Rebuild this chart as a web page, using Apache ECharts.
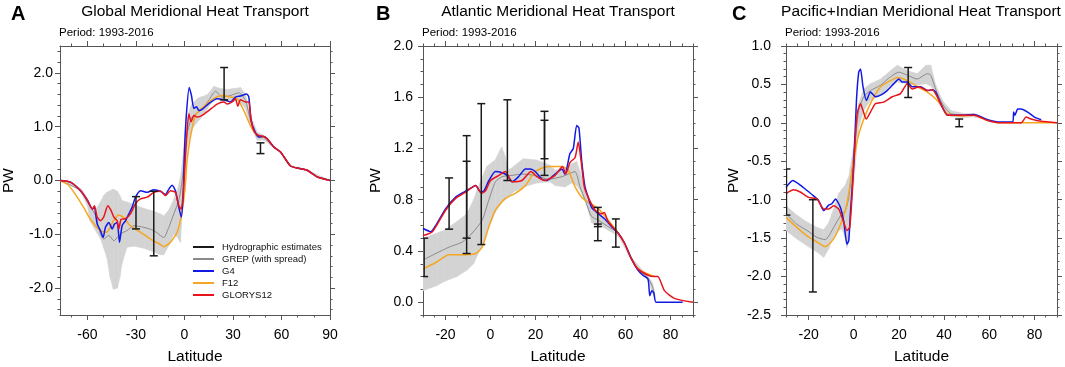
<!DOCTYPE html>
<html>
<head>
<meta charset="utf-8">
<script src="https://cdn.jsdelivr.net/npm/echarts@6/dist/echarts.min.js"></script>
<style>
  html, body { margin: 0; padding: 0; background: #fff; }
  #chart-container { width: 1065px; height: 367px; }
</style>
</head>
<body>
<div id="chart-container"></div>
<script>
// ---- Panel A: global ----
const globalG4 = [[-77,0],[-70.5,-0.03],[-64.3,-0.19],[-60,-0.37],[-57,-0.53],[-55.7,-0.50],[-54,-0.81],[-52,-0.93],[-50.3,-1.06],[-48.9,-0.87],[-46.8,-0.78],[-44.7,-0.90],[-43.3,-0.81],[-41.6,-0.78],[-40.2,-1.15],[-38.6,-0.84],[-36.5,-0.75],[-34.4,-0.62],[-32.4,-0.50],[-30.3,-0.31],[-27.2,-0.19],[-23,-0.22],[-19,-0.17],[-14.8,-0.20],[-11.8,-0.26],[-9.7,-0.16],[-7.6,-0.09],[-5.6,-0.19],[-3.5,-0.50],[-2,-0.68],[-0.8,-0.25],[0,0.56],[1.2,1.24],[2.9,1.73],[4.3,1.58],[5.8,1.34],[7.4,1.37],[8.9,1.30],[10.9,1.32],[15,1.43],[20.2,1.52],[24.3,1.50],[28.5,1.46],[31.5,1.55],[34.6,1.57],[38.4,1.61],[39.8,1.55],[41.2,1.12],[43.3,0.93],[46,0.81],[49,0.82],[51,0.78],[55.3,0.62],[59.4,0.53],[65.6,0.27],[71.8,0.22],[75.9,0.19],[82,0.07],[90,0]];
const globalGLORYS12 = [[-77,0],[-70.5,-0.03],[-64.3,-0.19],[-60,-0.37],[-57,-0.53],[-55.7,-0.47],[-54,-0.68],[-52,-0.75],[-50,-0.68],[-47.4,-0.47],[-45.4,-0.56],[-43.7,-0.68],[-41.6,-0.75],[-40.6,-0.90],[-39.2,-0.72],[-36.5,-0.71],[-33.4,-0.62],[-30.3,-0.43],[-27.2,-0.34],[-23,-0.31],[-19,-0.22],[-14.8,-0.20],[-11.8,-0.28],[-8.7,-0.19],[-5.6,-0.22],[-3.5,-0.47],[-2,-0.53],[-0.8,-0.25],[0,0.12],[1.2,0.75],[2.7,1.24],[4.1,1.09],[5.8,1.21],[7.8,1.18],[10.9,1.21],[15,1.30],[20.2,1.42],[24.3,1.46],[26.4,1.42],[29.5,1.46],[31.5,1.52],[33,1.38],[34.6,1.50],[37.7,1.46],[39.8,1.46],[41.2,1.12],[43.3,0.90],[46,0.84],[49,0.82],[51,0.78],[55.3,0.62],[59.4,0.53],[65.6,0.27],[71.8,0.22],[75.9,0.19],[82,0.07],[90,0]];
const globalF12 = [[-77,0],[-72,-0.08],[-67,-0.28],[-62,-0.52],[-58.4,-0.71],[-52.2,-0.93],[-48,-0.96],[-44,-0.75],[-40.8,-0.64],[-37.9,-0.68],[-33.5,-0.84],[-27.3,-0.96],[-21,-1.09],[-14.9,-1.19],[-12.8,-1.23],[-8.7,-1.15],[-4.5,-0.96],[-1.4,-0.56],[0.6,-0.06],[1.6,0.37],[3.7,0.81],[6.8,1.21],[12,1.38],[18.1,1.52],[23.3,1.58],[28.5,1.55],[32.6,1.52],[36.7,1.30],[40.8,1.02],[45,0.84],[51,0.78],[55.3,0.62],[59.4,0.53],[65.6,0.27],[71.8,0.22],[75.9,0.19],[82,0.07],[90,0]];
const globalGREP = [[-77,0],[-64,-0.19],[-60,-0.40],[-55,-0.65],[-52,-0.99],[-50,-1.09],[-46.8,-1.02],[-43.7,-1.12],[-39.6,-0.99],[-35.5,-0.93],[-31.3,-0.84],[-25.2,-0.87],[-19,-0.93],[-12.8,-1.06],[-9.7,-0.87],[-6.6,-0.62],[-3.5,-0.37],[-1.4,0],[0,0.43],[1.6,0.87],[4.7,1.18],[9.9,1.30],[15,1.49],[19.2,1.66],[23.3,1.55],[28.5,1.58],[33.6,1.63],[37.7,1.49],[40.8,1.12],[45,0.81],[49,0.80],[55.3,0.62],[59.4,0.53],[65.6,0.27],[71.8,0.22],[75.9,0.19],[82,0.07],[90,0]];
// [lat, low, high]
const globalSpread = [[-77,0,0],[-70,-0.08,-0.05],[-64,-0.22,-0.15],[-60,-0.48,-0.33],[-58.4,-0.75,-0.45],[-56,-0.88,-0.56],[-54,-0.98,-0.50],[-52,-1.08,-0.40],[-50,-1.25,-0.28],[-48,-1.43,-0.22],[-46,-1.80,-0.19],[-44,-2.02,-0.16],[-41.5,-2.0,-0.2],[-40,-1.80,-0.28],[-38.7,-1.55,-0.37],[-35.6,-1.24,-0.40],[-31,-1.22,-0.45],[-25,-1.26,-0.52],[-19,-1.33,-0.57],[-15,-1.38,-0.62],[-12.8,-1.38,-0.66],[-9.7,-1.21,-0.55],[-6.6,-1.0,-0.35],[-4.5,-1.05,-0.19],[-2.5,-1.15,0.06],[-1.4,-0.62,0.30],[-0.8,-0.30,0.45],[0,0.12,0.75],[0.6,0.30,0.93],[1.6,0.62,1.15],[3.7,0.85,1.37],[4.7,0.96,1.42],[7.8,1.08,1.52],[9.9,1.15,1.55],[13,1.28,1.58],[15,1.37,1.62],[18.1,1.50,1.75],[19.2,1.55,1.74],[22.3,1.48,1.71],[26.4,1.46,1.69],[30.5,1.47,1.71],[33.6,1.49,1.72],[34.6,1.45,1.73],[37.7,1.34,1.61],[40.8,1.02,1.21],[45,0.75,0.90],[49,0.75,0.84],[53,0.67,0.72],[55.3,0.61,0.63],[60,0.50,0.51],[65.6,0.26,0.28],[75.9,0.18,0.20],[90,0,0]];
const globalHydro = [[-30,-0.9,-0.3],[-19,-1.4,-0.2],[24.5,1.5,2.1],[47,0.5,0.7]];

// ---- Panel B: Atlantic ----
const atlanticG4 = [[-30,0.575],[-26.5,0.55],[-24.3,0.60],[-19.9,0.73],[-15.5,0.82],[-11.8,0.86],[-8.8,0.89],[-6.6,0.91],[-4.4,0.86],[-2.9,0.87],[-0.7,0.95],[2.2,1.02],[5.2,1.01],[7.4,0.99],[9.6,0.94],[12.5,0.98],[15.5,1.04],[17.7,1.04],[19.9,1.02],[22.8,0.96],[25,0.95],[28.7,1.00],[31.7,1.04],[33.1,1.00],[35.3,1.16],[36.8,1.20],[38.3,1.38],[39.3,1.36],[40.5,1.11],[42,0.90],[43.4,0.82],[44.9,0.74],[47.9,0.69],[50.8,0.65],[53.8,0.59],[56.7,0.54],[59.6,0.46],[62.6,0.34],[65.5,0.25],[67.7,0.21],[70,0.18],[70.8,0.05],[71.7,0.09],[72.6,0.07],[73.6,0],[85.4,0]];
const atlanticGLORYS12 = [[-30,0.52],[-25.8,0.55],[-19.9,0.72],[-15.5,0.81],[-11,0.86],[-6.6,0.91],[-4,0.85],[-2.2,0.87],[0,0.95],[3.7,0.99],[6.6,1.02],[9.6,0.94],[14,0.95],[18,1.02],[20.6,0.98],[24.3,0.95],[28.7,0.99],[32,1.06],[33.4,1.00],[35.3,1.09],[37.6,1.13],[39,1.25],[40.2,1.11],[41.7,0.90],[43.4,0.82],[46.4,0.72],[49.3,0.69],[50.5,0.70],[52.3,0.63],[56.7,0.54],[59.6,0.46],[62.6,0.34],[65.5,0.26],[70,0.21],[72.9,0.20],[74.4,0.20],[77.3,0.09],[81.7,0.03],[90,0]];
const atlanticF12 = [[-30,0.26],[-24.3,0.31],[-18.4,0.37],[-12.5,0.37],[-6.6,0.38],[-3.7,0.43],[-0.7,0.59],[2.2,0.72],[6.6,0.81],[11,0.85],[15.5,0.91],[19.9,1.02],[25.8,1.06],[31.7,1.06],[34.6,1.03],[37.6,0.90],[40.5,0.82],[43.4,0.78],[47.9,0.73],[52.3,0.64],[56.7,0.54],[59.6,0.46],[62.6,0.34],[65.5,0.26],[70,0.22],[73,0.20]];
const atlanticGREP = [[-30,0.33],[-24.3,0.38],[-18.4,0.43],[-12.5,0.47],[-8.1,0.54],[-3.7,0.64],[-0.7,0.80],[2.2,0.94],[5.2,0.98],[9.6,0.99],[14,1.00],[19.9,0.99],[25.8,0.96],[31.7,0.98],[34.6,1.00],[37.6,1.02],[39.8,0.90],[42,0.80],[44.9,0.67],[47.9,0.64],[52.3,0.59],[56.7,0.54],[59.6,0.46],[62.6,0.34],[65.5,0.25],[70,0.19],[72,0.12],[73,0.05]];
const atlanticSpread = [[-30,0.09,0.50],[-23.7,0.13,0.54],[-20.8,0.16,0.56],[-14.9,0.20,0.63],[-10.5,0.25,0.69],[-7.5,0.30,0.80],[-6,0.36,0.875],[-3.1,0.46,1.0],[-1.6,0.55,1.06],[0.6,0.64,1.09],[2.1,0.70,1.11],[4.3,0.76,1.19],[5,0.78,1.21],[6.5,0.80,1.14],[8,0.82,1.03],[10.2,0.86,1.06],[14.6,0.90,1.12],[20.5,0.93,1.11],[26.4,0.94,1.07],[28.7,0.91,1.03],[33.1,0.90,1.04],[36.1,0.93,1.08],[38.3,0.91,1.10],[39.8,0.875,1.02],[42.7,0.76,0.85],[45,0.62,0.76],[49.4,0.59,0.67],[54.5,0.54,0.57],[57,0.51,0.52],[62.6,0.33,0.35],[70,0.17,0.20],[72,0.08,0.15],[73,0.03,0.08]];
const atlanticHydro = [[-29.5,0.20,0.50],[-18.4,0.57,0.97],[-10.6,0.38,1.30],[-10.6,0.50,1.10],[-4.1,0.45,1.55],[7.5,0.95,1.58],[24,0.99,1.49],[24,1.12,1.42],[47.7,0.48,0.74],[47.7,0.59,0.61],[55.7,0.43,0.65]];

// ---- Panel C: Pacific + Indian ----
const pacificG4 = [[-30,-0.84],[-27,-0.75],[-23.7,-0.81],[-20.7,-0.88],[-17.8,-0.95],[-15.6,-1.01],[-13.3,-1.14],[-11.1,-1.07],[-9.6,-1.05],[-8.1,-0.99],[-5.9,-1.10],[-4.4,-1.29],[-3,-1.58],[-2.2,-1.53],[-1.5,-1.18],[0,-0.53],[1.2,0.29],[2.2,0.66],[3,0.70],[4.1,0.47],[5.6,0.29],[7.4,0.40],[9.6,0.34],[11.9,0.36],[14.8,0.42],[17.8,0.51],[20,0.57],[21.5,0.53],[23.7,0.53],[25.9,0.47],[29.6,0.47],[32.6,0.42],[34.8,0.43],[36.3,0.40],[38.5,0.25],[41.5,0.10],[44.4,0.10],[48.9,0.10],[53.3,0.11],[59.3,0.04],[65.2,0.01],[70.4,0.01],[70.8,0.14],[71.4,0.10],[72.6,0.18],[74.1,0.18],[77,0.14],[80,0.075],[83,0.04]];
const pacificGLORYS12 = [[-30,-0.92],[-26.7,-0.87],[-23.7,-0.90],[-20,-0.97],[-16.3,-0.99],[-13.3,-1.12],[-11.1,-1.12],[-8.9,-1.08],[-6.7,-1.12],[-4.7,-1.27],[-3,-1.40],[-1.8,-1.36],[-0.7,-0.92],[0.3,-0.40],[1.5,0.12],[3,0.25],[4.1,0.16],[5.5,0.05],[7.4,0.14],[9.6,0.25],[13.3,0.27],[17,0.34],[20.7,0.38],[23.7,0.51],[25.9,0.44],[28.9,0.47],[32.6,0.42],[34.8,0.43],[38.5,0.25],[41.5,0.10],[48.9,0.10],[53.3,0.10],[59.3,0.03],[65.2,0],[74.1,0],[76.3,0.075],[78.5,0.05],[83,0.02],[90,0]];
const pacificF12 = [[-30,-1.23],[-25.2,-1.36],[-20.7,-1.47],[-16.3,-1.55],[-12.6,-1.61],[-8.9,-1.51],[-5.2,-1.27],[-3,-1.05],[-0.7,-0.62],[1.5,-0.23],[3.7,-0.01],[7.4,0.25],[11.9,0.47],[16.3,0.55],[19.3,0.59],[23.7,0.55],[28.1,0.47],[32.6,0.40],[37,0.29],[41.5,0.12],[47.4,0.09],[53.3,0.10],[59.3,0.03],[65.2,0],[90,0]];
const pacificGREP = [[-30,-1.18],[-25.2,-1.32],[-20.7,-1.40],[-16.3,-1.49],[-12.6,-1.52],[-8.9,-1.36],[-5.9,-1.21],[-3.7,-1.14],[-2.2,-0.97],[0,-0.40],[2.2,0.16],[4.4,0.34],[7.4,0.42],[11.9,0.49],[16.3,0.60],[20,0.66],[23.7,0.62],[28.1,0.57],[32.6,0.64],[34.1,0.62],[37,0.38],[40,0.21],[43,0.12],[48.9,0.10],[53.3,0.10],[59.3,0.04]];
const pacificSpread = [[-30,-1.40,-1.08],[-25.2,-1.51,-1.20],[-20.7,-1.60,-1.29],[-16.3,-1.68,-1.36],[-13.3,-1.75,-1.39],[-11.1,-1.64,-1.30],[-9.6,-1.52,-1.18],[-8.1,-1.44,-1.05],[-6.7,-1.40,-0.92],[-5.2,-1.38,-0.86],[-3.7,-1.50,-0.81],[-3,-1.62,-0.75],[-2.2,-1.50,-0.70],[-1.5,-1.27,-0.58],[0.3,-0.66,-0.23],[2.2,-0.06,0.25],[4.4,0.16,0.44],[7.4,0.29,0.51],[11.9,0.36,0.57],[16.3,0.49,0.68],[19.3,0.53,0.75],[23.7,0.51,0.68],[28.1,0.49,0.64],[31.9,0.51,0.75],[34.1,0.48,0.75],[36.3,0.38,0.49],[39.3,0.21,0.29],[43,0.08,0.16],[48.9,0.07,0.12],[53.3,0.08,0.12],[59.3,0.03,0.05]];
const pacificHydro = [[-29.8,-1.2,-0.6],[-18.1,-2.2,-1.0],[24.1,0.33,0.72],[46.7,-0.05,0.05]];

// ---- tick labels ----
const globalLatTicks = [-60, -30, 0, 30, 60, 90];
const globalPwTicks = [-2, -1, 0, 1, 2];
const atlanticLatTicks = [-20, 0, 20, 40, 60, 80];
const atlanticPwTicks = [0, 0.4, 0.8, 1.2, 1.6, 2.0];
const pacificLatTicks = [-20, 0, 20, 40, 60, 80];
const pacificPwTicks = [-2.5, -2, -1.5, -1, -0.5, 0, 0.5, 1];

const FONT = '"Liberation Sans", Arial, Helvetica, sans-serif';
const AXIS = '#555';
const COLORS = { g4: '#1218e6', f12: '#f5a623', glorys: '#e8141c', grep: '#8a8a8a', band: '#d3d3d3', hydro: '#1a1a1a' };

const panels = [
  { title: 'Global Meridional Heat Transport', letter: 'A', titleX: 195, letterX: 11, grid: { left: 60, top: 46, width: 270, height: 269 },
    x: [-77, 90], y: [-2.5, 2.5], xTicks: globalLatTicks, yTicks: globalPwTicks, xMinor: 10, yMinor: 0.2, yMargin: 7, pwGap: 43,
    g4: globalG4, f12: globalF12, glorys: globalGLORYS12, grep: globalGREP, spread: globalSpread, hydro: globalHydro },
  { title: 'Atlantic Meridional Heat Transport', letter: 'B', titleX: 558, letterX: 376, grid: { left: 423, top: 46, width: 270, height: 269 },
    x: [-30, 90], y: [-0.1, 2.0], xTicks: atlanticLatTicks, yTicks: atlanticPwTicks, xMinor: 5, yMinor: 0.1, yMargin: 10, pwGap: 39,
    g4: atlanticG4, f12: atlanticF12, glorys: atlanticGLORYS12, grep: atlanticGREP, spread: atlanticSpread, hydro: atlanticHydro },
  { title: 'Pacific+Indian Meridional Heat Transport', letter: 'C', titleX: 921, letterX: 732, grid: { left: 786, top: 46, width: 271, height: 269 },
    x: [-30, 90], y: [-2.5, 1.0], xTicks: pacificLatTicks, yTicks: pacificPwTicks, xMinor: 5, yMinor: 0.1, yMargin: 15, pwGap: 44,
    g4: pacificG4, f12: pacificF12, glorys: pacificGLORYS12, grep: pacificGREP, spread: pacificSpread, hydro: pacificHydro }
];

function steps(min, max, step) {
  const out = [];
  for (let v = Math.ceil(min / step - 1e-9) * step; v <= max + 1e-9; v += step) out.push(+v.toFixed(3));
  return out;
}

function axesFor(dim, g, p) {
  const isX = dim === 'x';
  const range = isX ? p.x : p.y;
  const majors = isX ? p.xTicks : p.yTicks;
  const minors = steps(range[0], range[1], isX ? p.xMinor : p.yMinor);
  const sides = isX ? ['bottom', 'top'] : ['left', 'right'];
  const base = {
    type: 'value', gridIndex: g, min: range[0], max: range[1],
    splitLine: { show: false },
    axisLine: { onZero: false, lineStyle: { color: AXIS, width: 1 } }
  };
  const main = Object.assign({}, base, {
    position: sides[0],
    axisTick: { customValues: majors, length: 5, lineStyle: { color: AXIS } },
    axisLabel: {
      customValues: majors, color: '#000', fontSize: 14, fontFamily: FONT,
      margin: isX ? 13 : p.yMargin,
      formatter: isX ? (v) => String(v) : (v) => v.toFixed(1)
    },
    name: isX ? 'Latitude' : 'PW', nameLocation: 'middle',
    nameGap: isX ? 34 : p.pwGap, nameRotate: isX ? 0 : 90,
    nameTextStyle: { fontSize: 15.5, color: '#000', fontFamily: FONT }
  });
  const mirror = Object.assign({}, base, {
    position: sides[1],
    axisTick: { customValues: majors, length: 5, lineStyle: { color: AXIS } },
    axisLabel: { show: false }
  });
  const minorA = Object.assign({}, base, {
    position: sides[0], axisLine: { show: false, onZero: false },
    axisTick: { customValues: minors, length: 2.5, lineStyle: { color: AXIS } },
    axisLabel: { show: false }
  });
  const minorB = Object.assign({}, minorA, { position: sides[1] });
  return [main, mirror, minorA, minorB];
}

function lineSeries(name, data, color, width, g, z) {
  return {
    type: 'line', name, data, xAxisIndex: g * 4, yAxisIndex: g * 4,
    symbol: 'none', smooth: 0.2, z,
    lineStyle: { color, width }, itemStyle: { color }
  };
}

function seriesFor(p, g) {
  // band drawn as quads between consecutive spread rows
  const segs = [];
  for (let i = 0; i < p.spread.length - 1; i++) segs.push(p.spread[i].concat(p.spread[i + 1]));
  return [
    {
      type: 'custom', name: 'spread' + g, data: segs, xAxisIndex: g * 4, yAxisIndex: g * 4,
      z: 1, silent: true, clip: true, encode: { x: [0, 3], y: [1, 2, 4, 5] },
      renderItem: function (params, api) {
        const pts = [
          api.coord([api.value(0), api.value(1)]),
          api.coord([api.value(0), api.value(2)]),
          api.coord([api.value(3), api.value(5)]),
          api.coord([api.value(3), api.value(4)])
        ];
        return { type: 'polygon', shape: { points: pts }, style: { fill: COLORS.band, stroke: COLORS.band, lineWidth: 0.6 } };
      }
    },
    lineSeries('GREP (with spread)', p.grep, COLORS.grep, 1, g, 2),
    lineSeries('F12', p.f12, COLORS.f12, 1.5, g, 3),
    lineSeries('G4', p.g4, COLORS.g4, 1.5, g, 4),
    lineSeries('GLORYS12', p.glorys, COLORS.glorys, 1.5, g, 5),
    {
      type: 'custom', name: 'Hydrographic estimates', data: p.hydro,
      xAxisIndex: g * 4, yAxisIndex: g * 4, z: 6, clip: true,
      itemStyle: { color: COLORS.hydro },
      encode: { x: 0, y: [1, 2] },
      renderItem: function (params, api) {
        const x = api.value(0);
        const a = api.coord([x, api.value(1)]);
        const b = api.coord([x, api.value(2)]);
        const w = 4;
        const style = { stroke: COLORS.hydro, lineWidth: 1.5 };
        return {
          type: 'group', children: [
            { type: 'line', shape: { x1: a[0], y1: a[1], x2: b[0], y2: b[1] }, style },
            { type: 'line', shape: { x1: a[0] - w, y1: a[1], x2: a[0] + w, y2: a[1] }, style },
            { type: 'line', shape: { x1: b[0] - w, y1: b[1], x2: b[0] + w, y2: b[1] }, style }
          ]
        };
      }
    }
  ];
}

const chart = echarts.init(document.getElementById('chart-container'));
const option = {
  animation: false,
  backgroundColor: '#fff',
  textStyle: { fontFamily: FONT },
  grid: panels.map(p => Object.assign({ outerBoundsMode: 'none', containLabel: false }, p.grid)),
  xAxis: [].concat(...panels.map((p, g) => axesFor('x', g, p))),
  yAxis: [].concat(...panels.map((p, g) => axesFor('y', g, p))),
  legend: {
    orient: 'vertical', left: 188, top: 236, itemWidth: 21, itemHeight: 2, itemGap: 0,
    icon: 'rect', selectedMode: false,
    data: ['Hydrographic estimates', 'GREP (with spread)', 'G4', 'F12', 'GLORYS12'],
    textStyle: { fontSize: 9.5, color: '#111', lineHeight: 12, padding: [0, 0, 0, 3], fontFamily: FONT }
  },
  graphic: [].concat(...panels.map(p => [
    { type: 'text', x: p.letterX, y: 14, style: { text: p.letter, font: 'bold 20px ' + FONT, fill: '#000', verticalAlign: 'middle' } },
    { type: 'text', x: p.titleX, y: 12, style: { text: p.title, font: '15.5px ' + FONT, fill: '#000', align: 'center', verticalAlign: 'middle' } },
    { type: 'text', x: p.grid.left - 1, y: 33, style: { text: 'Period: 1993-2016', font: '11.5px ' + FONT, fill: '#000', verticalAlign: 'middle' } }
  ])),
  series: [].concat(...panels.map((p, g) => seriesFor(p, g)))
};
chart.setOption(option);
</script>
</body>
</html>
